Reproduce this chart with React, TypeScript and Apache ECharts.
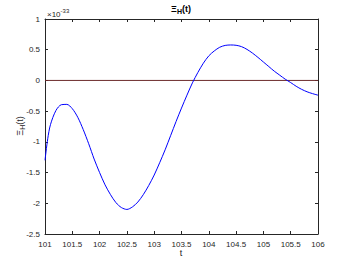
import React, { useEffect, useRef } from "react";
import * as echarts from "echarts";

const tValues = [
  101.0, 101.05, 101.1, 101.2, 101.3, 101.4, 101.5, 101.6, 101.7, 101.8, 101.9,
  102.0, 102.1, 102.2, 102.3, 102.4, 102.5, 102.6, 102.7, 102.8, 102.9,
  103.0, 103.1, 103.2, 103.3, 103.4, 103.5, 103.6, 103.7, 103.8, 103.9,
  104.0, 104.1, 104.2, 104.3, 104.4, 104.5, 104.6, 104.7, 104.8, 104.9,
  105.0, 105.1, 105.2, 105.3, 105.4, 105.5, 105.6, 105.7, 105.8, 105.9, 106.0,
];
const xiValues = [
  -1.3, -0.95, -0.72, -0.49, -0.395, -0.39, -0.46, -0.6, -0.8, -1.03, -1.28,
  -1.5, -1.7, -1.86, -1.99, -2.07, -2.1, -2.06, -1.98, -1.86, -1.71,
  -1.54, -1.34, -1.13, -0.9, -0.67, -0.45, -0.24, -0.04, 0.13, 0.28,
  0.4, 0.48, 0.54, 0.57, 0.577, 0.572, 0.55, 0.505, 0.445, 0.375,
  0.3, 0.225, 0.15, 0.085, 0.02, -0.035, -0.095, -0.145, -0.185, -0.215, -0.24,
];
const zeroLine = [
  [101, 0],
  [106, 0],
];
const xMin = 101;
const xMax = 106;
const yMin = -2.5;
const yMax = 1;

export default function App() {
  const ref = useRef<HTMLDivElement>(null);
  useEffect(() => {
    if (!ref.current) return;
    const chart = echarts.init(ref.current, null, { renderer: "svg" });
    const axisColor = "#262626";
    const font = "Liberation Sans, Arial, sans-serif";
    const labelStyle = { color: axisColor, fontSize: 8, fontFamily: font };
    chart.setOption({
      animation: false,
      backgroundColor: "#ffffff",
      grid: { left: 45, right: 32, top: 19, bottom: 29, containLabel: false, show: false },
      xAxis: [
        {
          type: "value",
          min: xMin,
          max: xMax,
          interval: 0.5,
          position: "bottom",
          axisLine: { show: true, onZero: false, lineStyle: { color: axisColor, width: 1 } },
          axisTick: { show: true, inside: true, length: 3, lineStyle: { color: axisColor } },
          axisLabel: { ...labelStyle, margin: 6 },
          splitLine: { show: false },
        },
        {
          type: "value",
          min: xMin,
          max: xMax,
          interval: 0.5,
          position: "top",
          axisLine: { show: true, onZero: false, lineStyle: { color: axisColor, width: 1 } },
          axisTick: { show: true, inside: true, length: 3, lineStyle: { color: axisColor } },
          axisLabel: { show: false },
          splitLine: { show: false },
        },
      ],
      yAxis: [
        {
          type: "value",
          min: yMin,
          max: yMax,
          interval: 0.5,
          position: "left",
          axisLine: { show: true, onZero: false, lineStyle: { color: axisColor, width: 1 } },
          axisTick: { show: true, inside: true, length: 3, lineStyle: { color: axisColor } },
          axisLabel: { ...labelStyle, margin: 5 },
          splitLine: { show: false },
        },
        {
          type: "value",
          min: yMin,
          max: yMax,
          interval: 0.5,
          position: "right",
          axisLine: { show: true, onZero: false, lineStyle: { color: axisColor, width: 1 } },
          axisTick: { show: true, inside: true, length: 3, lineStyle: { color: axisColor } },
          axisLabel: { show: false },
          splitLine: { show: false },
        },
      ],
      series: [
        {
          type: "line",
          data: tValues.map((t, i) => [t, xiValues[i]]),
          smooth: 0.3,
          showSymbol: false,
          lineStyle: { color: "#0000ff", width: 1 },
          z: 3,
        },
        {
          type: "line",
          data: zeroLine,
          showSymbol: false,
          lineStyle: { color: "#6b2b2b", width: 1 },
          z: 2,
        },
      ],
      graphic: [
        {
          type: "text",
          x: 181,
          y: 9,
          style: {
            text: "{a|Ξ}{b|H}{a|(t)}",
            align: "center",
            verticalAlign: "middle",
            rich: {
              a: { fontSize: 9, fontWeight: "bold", fontFamily: font, fill: "#000", color: "#000" },
              b: { fontSize: 7, fontWeight: "bold", fontFamily: font, fill: "#000", color: "#000", padding: [5, 0, 0, 0] },
            },
          },
        },
        {
          type: "text",
          x: 47,
          y: 13,
          style: {
            text: "{a|×10}{b|-33}",
            align: "left",
            verticalAlign: "middle",
            rich: {
              a: { fontSize: 8, fontFamily: font, fill: axisColor, color: axisColor, padding: [3, 0, 0, 0] },
              b: { fontSize: 6, fontFamily: font, fill: axisColor, color: axisColor, padding: [0, 0, 4, 0] },
            },
          },
        },
        {
          type: "text",
          x: 20,
          y: 126,
          rotation: Math.PI / 2,
          style: {
            text: "{a|Ξ}{b|H}{a|(t)}",
            align: "center",
            verticalAlign: "middle",
            rich: {
              a: { fontSize: 9, fontFamily: font, fill: axisColor, color: axisColor },
              b: { fontSize: 7, fontFamily: font, fill: axisColor, color: axisColor, padding: [5, 0, 0, 0] },
            },
          },
        },
        {
          type: "text",
          x: 181,
          y: 253,
          style: {
            text: "t",
            align: "center",
            verticalAlign: "middle",
            font: "9px " + font,
            fill: axisColor,
          },
        },
      ],
    });
    return () => chart.dispose();
  }, []);
  return <div ref={ref} style={{ width: 350, height: 263, position: "absolute", left: 0, top: 0 }} />;
}
